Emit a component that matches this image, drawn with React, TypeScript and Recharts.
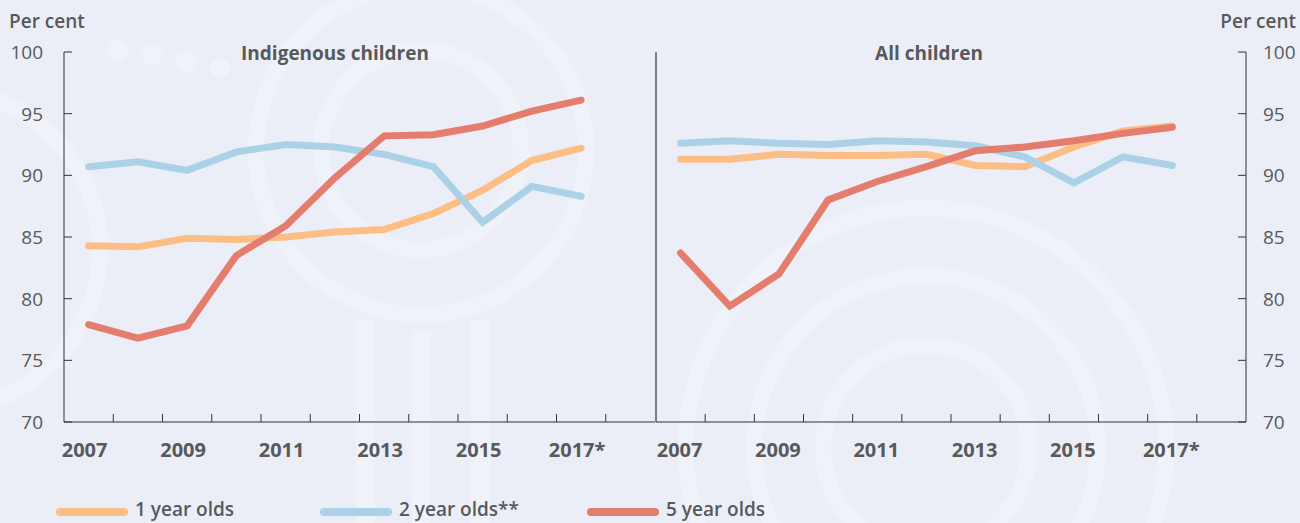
import React from 'react';
import { LineChart, Line, XAxis, YAxis, ReferenceLine } from 'recharts';

const years = [2007, 2008, 2009, 2010, 2011, 2012, 2013, 2014, 2015, 2016, 2017];
const labelYears = [2007, 2009, 2011, 2013, 2015, 2017];
const labelText = ['2007', '2009', '2011', '2013', '2015', '2017*'];
const yTicks = [70, 75, 80, 85, 90, 95, 100];

const indigenousOne = [84.3, 84.2, 84.9, 84.8, 85.0, 85.4, 85.6, 86.9, 88.8, 91.2, 92.2];
const indigenousTwo = [90.7, 91.1, 90.4, 91.9, 92.5, 92.3, 91.7, 90.7, 86.2, 89.1, 88.3];
const indigenousFive = [77.9, 76.8, 77.8, 83.5, 85.9, 89.8, 93.2, 93.3, 94.0, 95.2, 96.1];

const allOne = [91.3, 91.3, 91.7, 91.6, 91.6, 91.7, 90.8, 90.7, 92.3, 93.6, 94.0];
const allTwo = [92.6, 92.8, 92.6, 92.5, 92.8, 92.7, 92.4, 91.5, 89.4, 91.5, 90.8];
const allFive = [83.7, 79.4, 82.0, 88.0, 89.5, 90.7, 92.0, 92.3, 92.8, 93.4, 93.9];

const seriesNames = ['1 year olds', '2 year olds**', '5 year olds'];
const seriesColors = ['#FCBE85', '#ABD1E6', '#E47D6D'];

const FONT = "'Open Sans', Lato, sans-serif";
const TEXT = '#58595B';
const AXIS = '#333333';
const BG = '#ECEEF7';
const MARK = '#F0F2F9';

// x domain runs half a year either side so points sit in the middle of each band
const xMin = years[0] - 0.5;
const xMax = years[years.length - 1] + 1.5;
const xTicks = [...years.map((y) => y + 0.5), ...labelYears].sort((a, b) => a - b);

const buildRows = (one: number[], two: number[], five: number[]) =>
  years.map((year, i) => ({ year, one: one[i], two: two[i], five: five[i] }));

const indigenousRows = buildRows(indigenousOne, indigenousTwo, indigenousFive);
const allRows = buildRows(allOne, allTwo, allFive);

const makeXTick = (dx: number) => (props: any) => {
  const { x, y, payload } = props;
  const v = payload.value;
  if (Number.isInteger(v)) {
    const idx = labelYears.indexOf(v);
    if (idx < 0) return <g />;
    return (
      <text x={x + dx} y={y + 35} textAnchor="middle" fill={TEXT} fontSize={20} fontWeight={700} fontFamily={FONT}>
        {labelText[idx]}
      </text>
    );
  }
  if (v >= xMax) return <g />;
  return <line x1={x} x2={x} y1={y} y2={y - 8} stroke={AXIS} strokeWidth={1} />;
};

const makeYTick = (side: 'left' | 'right') => (props: any) => {
  const { x, y, payload } = props;
  const inward = side === 'left' ? 8 : -8;
  return (
    <g>
      <line x1={x} x2={x + inward} y1={y} y2={y} stroke={AXIS} strokeWidth={1} />
      <text
        x={side === 'left' ? x - 21 : x + 17}
        y={y + 7}
        textAnchor={side === 'left' ? 'end' : 'start'}
        fill={TEXT}
        fontSize={19}
        fontFamily={FONT}
      >
        {payload.value}
      </text>
    </g>
  );
};

const seriesLines = () =>
  ['one', 'two', 'five'].map((key, i) => (
    <Line
      key={key}
      type="linear"
      dataKey={key}
      name={seriesNames[i]}
      stroke={seriesColors[i]}
      strokeWidth={7}
      strokeLinecap="round"
      dot={false}
      activeDot={false}
      isAnimationActive={false}
    />
  ));

const Watermark = () => (
  <svg width={1300} height={523} style={{ position: 'absolute', left: 0, top: 0 }}>
    <g fill="none" stroke={MARK} strokeWidth={16}>
      <circle cx={421} cy={150} r={100} />
      <circle cx={421} cy={150} r={165} />
      <circle cx={926} cy={448} r={103} />
      <circle cx={926} cy={448} r={172} />
      <circle cx={926} cy={448} r={240} />
      <circle cx={-60} cy={250} r={160} />
    </g>
    <g fill={MARK}>
      <circle cx={118} cy={50} r={10} />
      <circle cx={152} cy={55} r={10} />
      <circle cx={186} cy={62} r={10} />
      <circle cx={220} cy={68} r={10} />
      <rect x={356} y={320} width={19} height={210} />
      <rect x={412} y={330} width={19} height={200} />
      <rect x={471} y={320} width={19} height={210} />
    </g>
  </svg>
);

const Legend = () => {
  const swatchX = [60, 324, 591];
  return (
    <svg width={1300} height={43} style={{ position: 'absolute', left: 0, top: 480 }}>
      {seriesNames.map((name, i) => (
        <g key={name}>
          <line
            x1={swatchX[i]}
            x2={swatchX[i] + 64}
            y1={32}
            y2={32}
            stroke={seriesColors[i]}
            strokeWidth={8}
            strokeLinecap="round"
          />
          <text x={swatchX[i] + 75} y={36} fill={TEXT} fontSize={19} fontWeight={600} fontFamily={FONT}>
            {name}
          </text>
        </g>
      ))}
    </svg>
  );
};

const labelStyle: React.CSSProperties = {
  position: 'absolute',
  color: TEXT,
  fontFamily: FONT,
  fontWeight: 600,
  fontSize: 19,
  whiteSpace: 'nowrap',
  lineHeight: '20px',
};

export default function App() {
  return (
    <div style={{ position: 'absolute', left: 0, top: 0, width: 1300, height: 523, background: BG, overflow: 'hidden' }}>
      <Watermark />

      <div style={{ position: 'absolute', left: 0, top: 0 }}>
        <LineChart width={656} height={523} data={indigenousRows} margin={{ top: 52, right: 1, bottom: 41, left: 0 }}>
          <XAxis
            dataKey="year"
            type="number"
            domain={[xMin, xMax]}
            ticks={xTicks}
            interval={0}
            height={60}
            tickSize={0}
            tickMargin={0}
            tickLine={false}
            axisLine={{ stroke: AXIS }}
            tick={makeXTick(-4)}
          />
          <YAxis
            domain={[70, 100]}
            ticks={yTicks}
            interval={0}
            width={64}
            tickSize={0}
            tickMargin={0}
            tickLine={false}
            axisLine={{ stroke: AXIS }}
            tick={makeYTick('left')}
          />
          {seriesLines()}
        </LineChart>
      </div>

      <div style={{ position: 'absolute', left: 640, top: 0 }}>
        <LineChart width={660} height={523} data={allRows} margin={{ top: 52, right: 0, bottom: 41, left: 16 }}>
          <XAxis
            dataKey="year"
            type="number"
            domain={[xMin, xMax]}
            ticks={xTicks}
            interval={0}
            height={60}
            tickSize={0}
            tickMargin={0}
            tickLine={false}
            axisLine={{ stroke: AXIS }}
            tick={makeXTick(-1)}
          />
          <YAxis
            orientation="right"
            domain={[70, 100]}
            ticks={yTicks}
            interval={0}
            width={54}
            tickSize={0}
            tickMargin={0}
            tickLine={false}
            axisLine={{ stroke: AXIS }}
            tick={makeYTick('right')}
          />
          <ReferenceLine x={xMin} stroke="#111111" strokeWidth={1} />
          {seriesLines()}
        </LineChart>
      </div>

      <div style={{ ...labelStyle, left: 9, top: 11 }}>Per cent</div>
      <div style={{ ...labelStyle, right: 4, top: 11 }}>Per cent</div>
      <div style={{ ...labelStyle, fontWeight: 700, left: 335, top: 43, transform: 'translateX(-50%)' }}>
        Indigenous children
      </div>
      <div style={{ ...labelStyle, fontWeight: 700, left: 929, top: 43, transform: 'translateX(-50%)' }}>
        All children
      </div>

      <Legend />
    </div>
  );
}
